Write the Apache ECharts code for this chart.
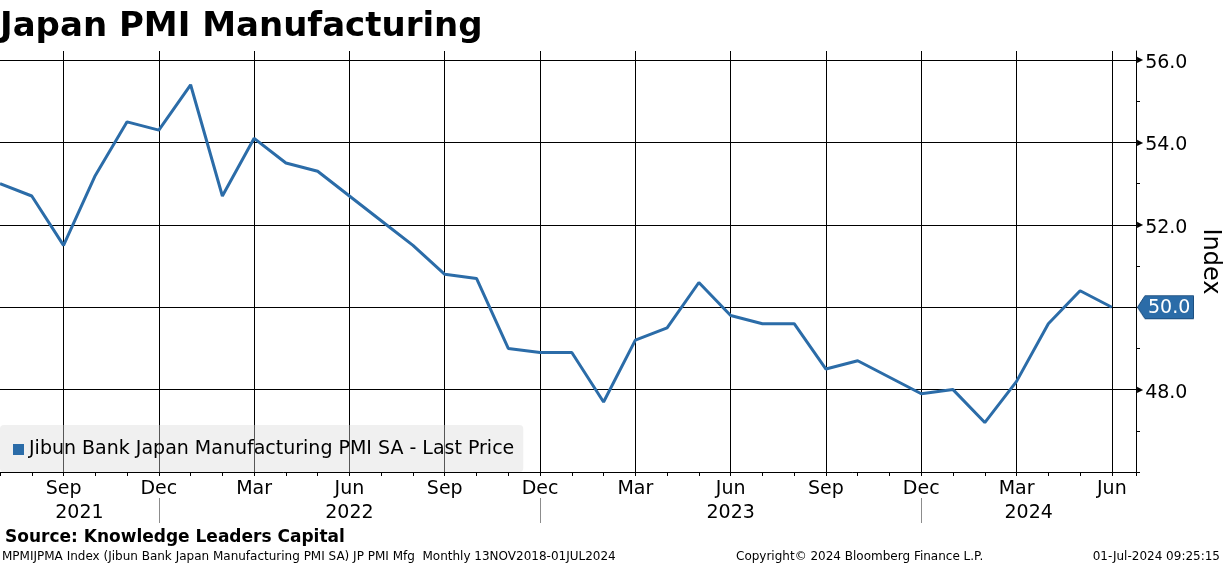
<!DOCTYPE html>
<html>
<head>
<meta charset="utf-8">
<script src="https://cdn.jsdelivr.net/npm/echarts@6/dist/echarts.min.js"></script>
<style>
html,body{margin:0;padding:0;background:#ffffff;}
#chart{width:1224px;height:566px;}
</style>
</head>
<body>
<div id="chart"></div>
<script>
// ---- data ----
const monthAbbr = ['Jan','Feb','Mar','Apr','May','Jun','Jul','Aug','Sep','Oct','Nov','Dec'];
const startYear = 2021;
const startMonth = 6; // July (0-based)
const pmi = [
  53.0, 52.7, 51.5, 53.2, 54.5, 54.3,             // Jul-Dec 2021
  55.4, 52.7, 54.1, 53.5, 53.3, 52.7, 52.1, 51.5, 50.8, 50.7, 49.0, 48.9, // 2022
  48.9, 47.7, 49.2, 49.5, 50.6, 49.8, 49.6, 49.6, 48.5, 48.7, 48.3, 47.9, // 2023
  48.0, 47.2, 48.2, 49.6, 50.4, 50.0              // Jan-Jun 2024
];
const yearLabels = ['2021','2022','2023','2024'];
const yTickLabels = [48, 50, 52, 54, 56];
const seriesName = 'Jibun Bank Japan Manufacturing PMI SA - Last Price';

// ---- derived ----
const FONT = 'DejaVu Sans';
const BLUE = '#2b6ca8';
const xMax = pmi.length - 1 + 0.76;
const yMin = 46, yMax = 56.22;
const lastVal = pmi[pmi.length - 1];
const monthOf = i => (startMonth + i) % 12;
const quarterIdx = [], yearBreaks = [];
pmi.forEach((v, i) => {
  const m = monthOf(i);
  if (m % 3 === 2) quarterIdx.push(i);
  if (m === 11) yearBreaks.push(i);
});
const bounds = [0].concat(yearBreaks, [xMax]);
const yearPos = [];
for (let k = 0; k < bounds.length - 1; k++) yearPos.push((bounds[k] + bounds[k + 1]) / 2);

// tag background (pentagon pointing left)
const tagCanvas = document.createElement('canvas');
tagCanvas.width = 57; tagCanvas.height = 25;
(function () {
  const c = tagCanvas.getContext('2d');
  c.fillStyle = BLUE;
  c.strokeStyle = '#1c4f80';
  c.lineWidth = 1;
  c.beginPath();
  c.moveTo(0.5, 12.5); c.lineTo(8, 0.5); c.lineTo(56.5, 0.5); c.lineTo(56.5, 24.5); c.lineTo(8, 24.5); c.closePath();
  c.fill(); c.stroke();
})();

const chart = echarts.init(document.getElementById('chart'), null, {renderer: 'canvas'});
chart.setOption({
  animation: false,
  backgroundColor: '#ffffff',
  title: [
    {text: 'Japan PMI Manufacturing', left: 0, top: 10, padding: 0,
     textStyle: {fontFamily: FONT, fontWeight: 'bold', fontSize: 34, color: '#000'}},
    {text: 'Source: Knowledge Leaders Capital', left: 5, top: 529, padding: 0,
     textStyle: {fontFamily: FONT, fontWeight: 'bold', fontSize: 17, color: '#000'}},
    {text: 'MPMIJPMA Index (Jibun Bank Japan Manufacturing PMI SA) JP PMI Mfg  Monthly 13NOV2018-01JUL2024', left: 2, top: 551, padding: 0,
     textStyle: {fontFamily: FONT, fontWeight: 'normal', fontSize: 12, color: '#000'}},
    {text: 'Copyright\u00a9 2024 Bloomberg Finance L.P.', left: 736, top: 551, padding: 0,
     textStyle: {fontFamily: FONT, fontWeight: 'normal', fontSize: 12, color: '#000'}},
    {text: '01-Jul-2024 09:25:15', right: 4, top: 551, padding: 0,
     textStyle: {fontFamily: FONT, fontWeight: 'normal', fontSize: 12, color: '#000'}}
  ],
  legend: {
    show: true, left: 0, top: 425,
    data: [seriesName], selectedMode: false,
    icon: 'rect', itemWidth: 11, itemHeight: 11,
    backgroundColor: 'rgba(218,218,218,0.4)', borderRadius: 4,
    padding: [15, 9, 13, 13],
    textStyle: {fontFamily: FONT, fontSize: 19, color: '#000'}
  },
  grid: {left: 0, right: 88, top: 51, bottom: 94, containLabel: false, outerBoundsMode: 'none'},
  xAxis: [
    {
      type: 'value', min: 0, max: xMax, interval: 1, position: 'bottom',
      axisLine: {show: true, onZero: false, lineStyle: {color: '#000', width: 1}},
      axisTick: {show: true, length: 4, lineStyle: {color: '#000', width: 1}},
      splitLine: {show: false},
      axisLabel: {
        show: true, margin: 8, color: '#000', fontFamily: FONT, fontSize: 19,
        formatter: function (v) {
          if (Math.abs(v - Math.round(v)) > 1e-6) return '';
          const i = Math.round(v);
          return quarterIdx.indexOf(i) >= 0 ? monthAbbr[monthOf(i)] : '';
        }
      }
    },
    {
      type: 'value', min: 0, max: xMax, position: 'bottom', offset: 26,
      axisLine: {show: false, onZero: false},
      axisTick: {show: true, customValues: yearBreaks, length: 25, lineStyle: {color: '#8c8c8c', width: 1}},
      splitLine: {show: false},
      axisLabel: {
        show: true, customValues: yearPos, margin: 6, color: '#000', fontFamily: FONT, fontSize: 19,
        formatter: function (v) {
          let best = 0, d = Infinity;
          yearPos.forEach((p, k) => { if (Math.abs(p - v) < d) { d = Math.abs(p - v); best = k; } });
          return yearLabels[best];
        }
      }
    }
  ],
  yAxis: {
    type: 'value', position: 'right', min: yMin, max: yMax, interval: 1,
    name: 'Index', nameLocation: 'middle', nameRotate: -90, nameGap: 62, nameMoveOverlap: false,
    nameTextStyle: {fontFamily: FONT, fontSize: 24, color: '#000'},
    axisLine: {show: true, onZero: false, lineStyle: {color: '#000', width: 1}},
    axisTick: {show: true, length: 4, lineStyle: {color: '#000', width: 1}},
    splitLine: {show: false},
    axisLabel: {
      show: true, margin: 1, color: '#000', fontFamily: FONT, fontSize: 19,
      showMaxLabel: false,
      formatter: function (v) {
        if (Math.abs(v - lastVal) < 1e-6) return '{tag|' + lastVal.toFixed(1) + '}';
        if (yTickLabels.indexOf(v) >= 0) return '{t|\u25B6}{n|' + v.toFixed(1) + '}';
        return '';
      },
      rich: {
        t: {fontSize: 8, color: '#000', fontFamily: FONT, padding: [0, 2, 0, 0]},
        n: {fontSize: 19, color: '#000', fontFamily: FONT, padding: [6, 0, 0, 0]},
        tag: {fontSize: 19, color: '#fff', fontFamily: FONT, width: 42, align: 'left',
              padding: [3, 4, 2, 11], backgroundColor: {image: tagCanvas}}
      }
    }
  },
  series: [{
    name: seriesName, type: 'line', xAxisIndex: 0, yAxisIndex: 0,
    data: pmi.map((v, i) => [i, v]),
    showSymbol: false, symbol: 'none', z: 3,
    lineStyle: {color: BLUE, width: 3},
    itemStyle: {color: BLUE},
    markLine: {
      silent: true, symbol: ['none', 'none'], z: 1,
      label: {show: false},
      lineStyle: {color: '#000', width: 1, type: 'solid'},
      emphasis: {disabled: true},
      data: quarterIdx.map(i => ({xAxis: i})).concat(yTickLabels.map(y => ({yAxis: y})))
    }
  }]
});
</script>
</body>
</html>
